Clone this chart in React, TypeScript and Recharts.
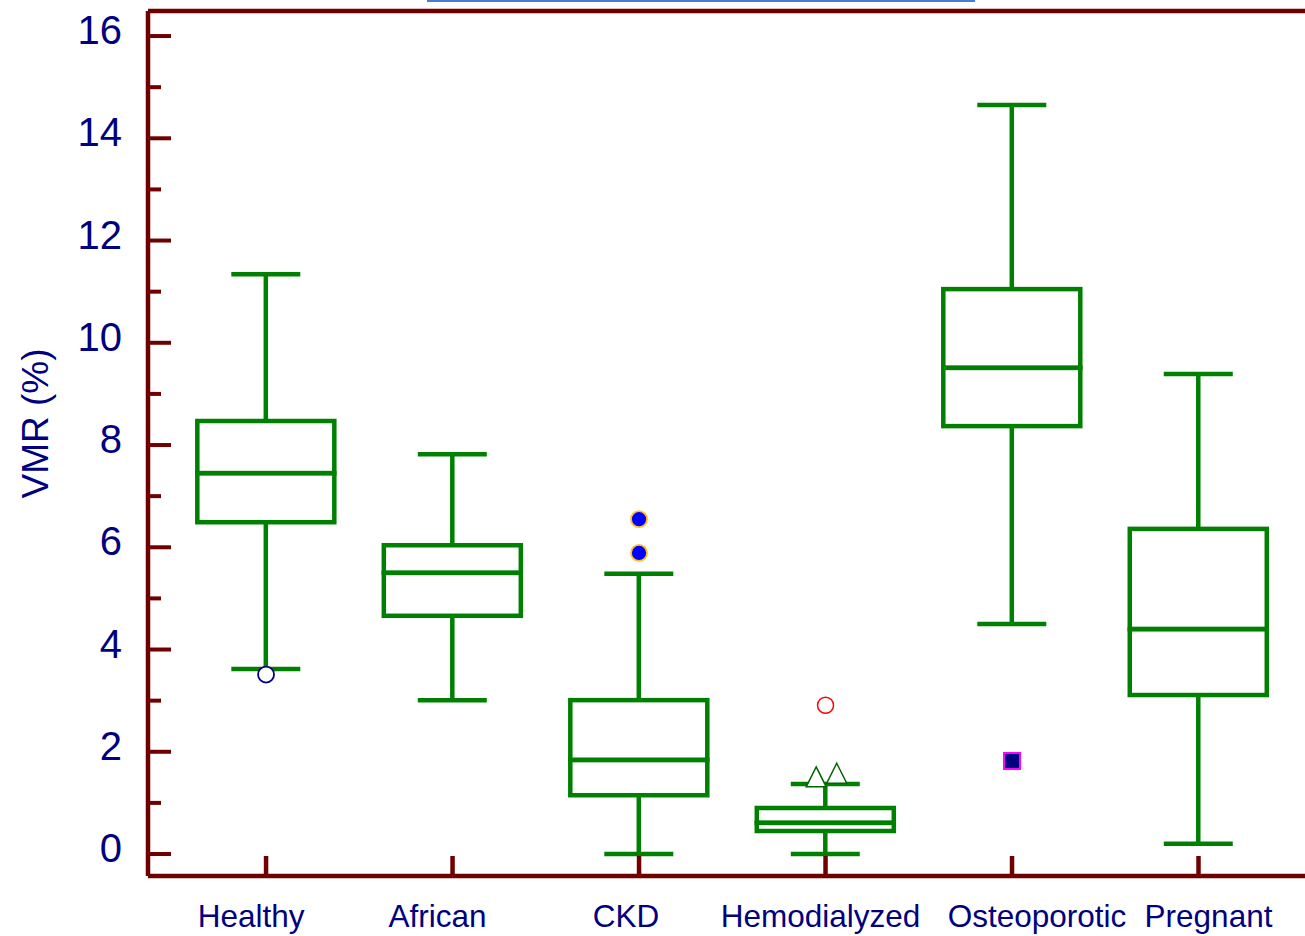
import { ComposedChart, Bar, Scatter, XAxis, YAxis } from "recharts";

// Five-number summaries per group (VMR %)
const groups = ["Healthy", "African", "CKD", "Hemodialyzed", "Osteoporotic", "Pregnant"];
const whiskerLow = [3.62, 3.01, 0, 0, 4.5, 0.2];
const lowerQuartile = [6.49, 4.66, 1.15, 0.45, 8.37, 3.11];
const median = [7.45, 5.5, 1.84, 0.61, 9.51, 4.4];
const upperQuartile = [8.47, 6.04, 3.01, 0.9, 11.05, 6.36];
const whiskerHigh = [11.34, 7.82, 5.48, 1.37, 14.65, 9.39];

// Outlying observations
const healthyOutliers = [{ x: 1, y: 3.51 }];
const ckdOutliers = [
  { x: 3, y: 6.55 },
  { x: 3, y: 5.89 },
];
const hemoFarOutliers = [{ x: 4, y: 2.91 }];
const hemoNearOutliers = [
  { x: 3.95, y: 1.51 },
  { x: 4.06, y: 1.58 },
];
const osteoOutliers = [{ x: 5, y: 1.82 }];

const xTicks = [1, 2, 3, 4, 5, 6];
const yTicks = [0, 1, 2, 3, 4, 5, 6, 7, 8, 9, 10, 11, 12, 13, 14, 15, 16];

// horizontal nudges so the long group names don't collide
const labelShift = [-15, -15, -13, -5, 25, 10];

const GREEN = "#008000";
const AXIS = "#700000";
const NAVY = "#000080";
const FONT = "'Liberation Sans', Arial, Helvetica, sans-serif";
const BOX_W = 137;
const CAP_W = 69;
const LINE_W = 4.5;

const boxData = groups.map((name, i) => ({
  x: i + 1,
  name,
  base: whiskerLow[i],
  lowWhisker: lowerQuartile[i] - whiskerLow[i],
  lowerBox: median[i] - lowerQuartile[i],
  upperBox: upperQuartile[i] - median[i],
  highWhisker: whiskerHigh[i] - upperQuartile[i],
}));

const Hidden = () => <g />;

function LowWhisker(props: any) {
  const { x, y, width, height } = props;
  const cx = x + width / 2;
  return (
    <g>
      <line x1={cx} x2={cx} y1={y} y2={y + height} stroke={GREEN} strokeWidth={LINE_W} />
      <line x1={cx - CAP_W / 2} x2={cx + CAP_W / 2} y1={y + height} y2={y + height} stroke={GREEN} strokeWidth={LINE_W} />
    </g>
  );
}

function HighWhisker(props: any) {
  const { x, y, width, height } = props;
  const cx = x + width / 2;
  return (
    <g>
      <line x1={cx} x2={cx} y1={y} y2={y + height} stroke={GREEN} strokeWidth={LINE_W} />
      <line x1={cx - CAP_W / 2} x2={cx + CAP_W / 2} y1={y} y2={y} stroke={GREEN} strokeWidth={LINE_W} />
    </g>
  );
}

function BoxHalf(props: any) {
  const { x, y, width, height } = props;
  const cx = x + width / 2;
  return (
    <rect x={cx - BOX_W / 2} y={y} width={BOX_W} height={height} fill="none" stroke={GREEN} strokeWidth={LINE_W} />
  );
}

const OpenNavyCircle = (p: any) => (
  <circle cx={p.cx} cy={p.cy} r={8} fill="#ffffff" stroke={NAVY} strokeWidth={1.8} />
);
const BlueDot = (p: any) => (
  <circle cx={p.cx} cy={p.cy} r={8} fill="#0000ff" stroke="#ffc020" strokeWidth={1.8} />
);
const OpenRedCircle = (p: any) => (
  <circle cx={p.cx} cy={p.cy} r={8} fill="none" stroke="#ff0000" strokeWidth={1.5} />
);
const OpenTriangle = (p: any) => (
  <path
    d={`M${p.cx},${p.cy - 10} L${p.cx + 10},${p.cy + 10} L${p.cx - 10},${p.cy + 10} Z`}
    fill="#ffffff"
    stroke="#006400"
    strokeWidth={1.5}
  />
);
const NavySquare = (p: any) => (
  <rect x={p.cx - 8} y={p.cy - 8} width={16} height={16} fill={NAVY} stroke="#ff00ff" strokeWidth={2} />
);

function XTick(props: any) {
  const { x, y, payload } = props;
  const i = xTicks.indexOf(payload.value);
  return (
    <g>
      <line x1={x} x2={x} y1={y} y2={y - 20} stroke={AXIS} strokeWidth={4.5} />
      <text
        x={x + (labelShift[i] ?? 0)}
        y={y + 51}
        textAnchor="middle"
        fill={NAVY}
        fontSize={31.5}
        fontFamily={FONT}
      >
        {groups[i]}
      </text>
    </g>
  );
}

function YTick(props: any) {
  const { x, y, payload } = props;
  const major = payload.value % 2 === 0;
  const axisX = x + 26;
  return (
    <g>
      <line x1={axisX} x2={axisX + (major ? 23 : 13)} y1={y} y2={y} stroke={AXIS} strokeWidth={4} />
      {major && (
        <text x={x} y={y + 8} textAnchor="end" fill={NAVY} fontSize={40} fontFamily={FONT}>
          {payload.value}
        </text>
      )}
    </g>
  );
}

export default function App() {
  const xDomain: [number, number] = [0.367, 6.571];
  return (
    <div style={{ position: "absolute", left: 0, top: 0, width: 1305, height: 936, background: "#ffffff" }}>
      <div
        style={{ position: "absolute", left: 427, top: 0, width: 548, height: 2, background: "#4a7cd0" }}
      />
      <ComposedChart
        width={1305}
        height={936}
        data={boxData}
        margin={{ top: 10, right: 0, bottom: 0, left: 0 }}
      >
        <XAxis
          xAxisId="top"
          orientation="top"
          dataKey="x"
          type="number"
          domain={xDomain}
          allowDataOverflow
          height={1}
          tick={false}
          tickLine={false}
          axisLine={{ stroke: AXIS, strokeWidth: 4.5 }}
        />
        <XAxis
          dataKey="x"
          type="number"
          domain={xDomain}
          allowDataOverflow
          ticks={xTicks}
          interval={0}
          height={60}
          tickSize={0}
          tickMargin={0}
          tickLine={false}
          axisLine={{ stroke: AXIS, strokeWidth: 4.5 }}
          tick={<XTick />}
        />
        <YAxis
          type="number"
          domain={[-0.43, 16.49]}
          allowDataOverflow
          ticks={yTicks}
          interval={0}
          width={148}
          tickSize={0}
          tickMargin={26}
          tickLine={false}
          axisLine={{ stroke: AXIS, strokeWidth: 4.5 }}
          tick={<YTick />}
          label={{
            value: "VMR (%)",
            angle: -90,
            position: "center",
            dx: -39,
            dy: -20,
            fill: NAVY,
            fontSize: 37,
            fontFamily: FONT,
          }}
        />
        <Bar dataKey="base" stackId="box" shape={<Hidden />} isAnimationActive={false} />
        <Bar dataKey="lowWhisker" stackId="box" shape={<LowWhisker />} isAnimationActive={false} />
        <Bar dataKey="lowerBox" stackId="box" shape={<BoxHalf />} isAnimationActive={false} />
        <Bar dataKey="upperBox" stackId="box" shape={<BoxHalf />} isAnimationActive={false} />
        <Bar dataKey="highWhisker" stackId="box" shape={<HighWhisker />} isAnimationActive={false} />
        <Scatter data={healthyOutliers} dataKey="y" shape={<OpenNavyCircle />} isAnimationActive={false} />
        <Scatter data={ckdOutliers} dataKey="y" shape={<BlueDot />} isAnimationActive={false} />
        <Scatter data={hemoFarOutliers} dataKey="y" shape={<OpenRedCircle />} isAnimationActive={false} />
        <Scatter data={hemoNearOutliers} dataKey="y" shape={<OpenTriangle />} isAnimationActive={false} />
        <Scatter data={osteoOutliers} dataKey="y" shape={<NavySquare />} isAnimationActive={false} />
      </ComposedChart>
    </div>
  );
}
